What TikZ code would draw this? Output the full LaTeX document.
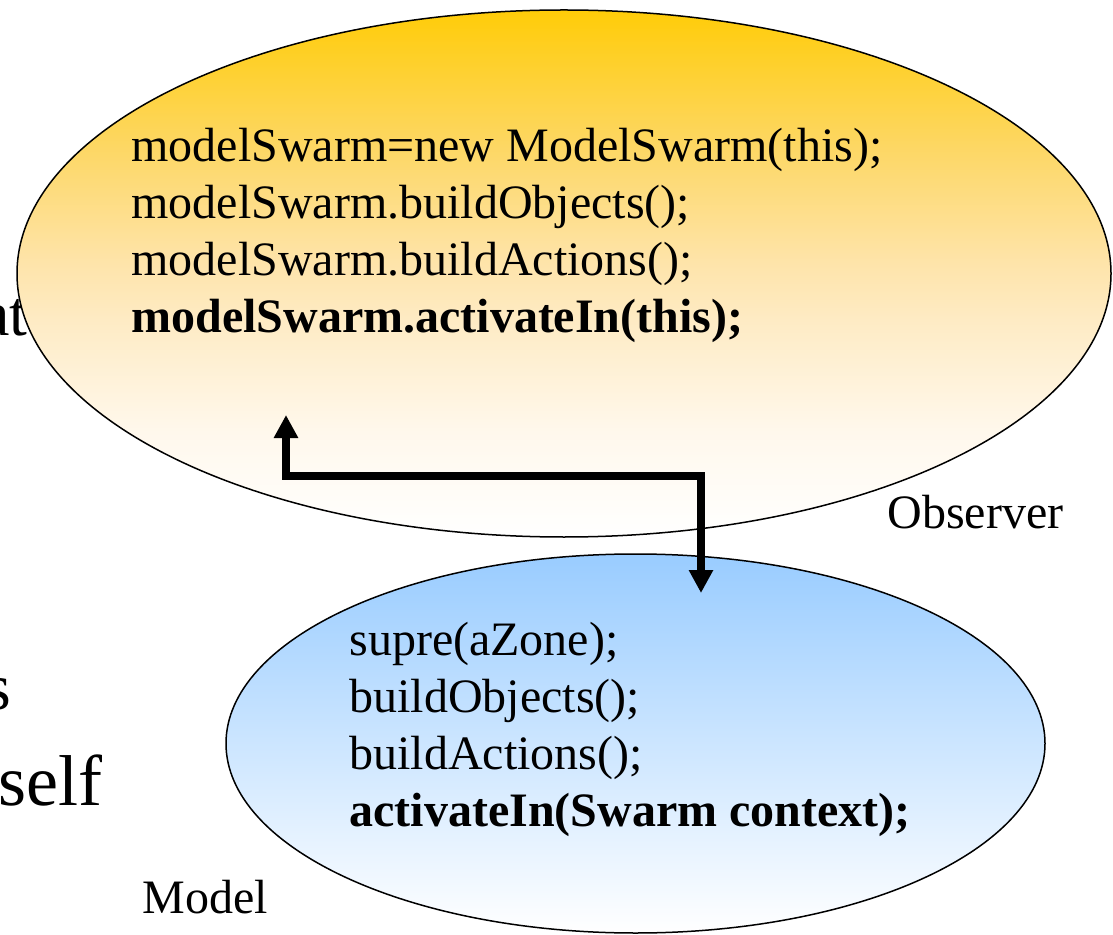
\documentclass[tikz,border=0pt]{standalone}
\usepackage{fontspec}
\setmainfont{Liberation Serif}
\usetikzlibrary{shapes.geometric,arrows.meta}
\definecolor{gold}{RGB}{255,204,8}
\definecolor{obA}{RGB}{253,215,100}
\definecolor{obB}{RGB}{254,228,170}
\definecolor{obC}{RGB}{254,235,196}
\definecolor{obD}{RGB}{255,248,236}
\definecolor{sky}{RGB}{153,204,255}
\definecolor{paleblue}{RGB}{210,229,252}
\pgfdeclareverticalshading{obsfill}{100bp}{color(0bp)=(white); color(25bp)=(white); color(35bp)=(obD); color(45.6bp)=(obC); color(51bp)=(obB); color(62bp)=(obA); color(75bp)=(gold); color(100bp)=(gold)}
\begin{document}
\begin{tikzpicture}[x=0.5pt,y=-0.5pt,
  code/.style={anchor=base west, inner sep=0pt, font=\fontsize{24}{28.5}\selectfont},
  codeb/.style={anchor=base west, inner sep=0pt, font=\fontsize{24}{28.5}\selectfont\bfseries},
  bgtext/.style={anchor=base west, inner sep=0pt},
  bubble/.style={ellipse, draw=black, line width=0.75pt, inner sep=0pt},
  link/.style={line width=4pt, {Triangle[length=11.5pt,width=11.5pt]}-{Triangle[length=11.5pt,width=11.5pt]}}
]
\useasboundingbox (0,0) rectangle (1113,935);
\clip (0,0) rectangle (1113,935);
% background slide text fragments
\node[bgtext, font=\fontsize{32}{38}\selectfont] (frag1) at (-19,336) {at};
\node[bgtext, font=\fontsize{33}{40}\selectfont] (frag2) at (-15,709) {s};
\node[bgtext, font=\fontsize{36}{43}\selectfont] (frag3) at (-2,805) {self};
% ellipses
\node[bubble, minimum width=547pt, minimum height=263.5pt,
      shade, shading=obsfill] (obs) at (564,273.5) {};
\node[bubble, minimum width=409.5pt, minimum height=189.5pt,
      top color=sky, middle color=paleblue, bottom color=white] (mod) at (635.5,743.5) {};
% observer code
\node[code]  (o1) at (131,162) {modelSwarm=new ModelSwarm(this);};
\node[code]  (o2) at (131,219) {modelSwarm.buildObjects();};
\node[code]  (o3) at (131,276) {modelSwarm.buildActions();};
\node[codeb] (o4) at (131,333) {modelSwarm.activateIn(this);};
% model code
\node[code]  (m1) at (349,655) {supre(aZone);};
\node[code]  (m2) at (349,712) {buildObjects();};
\node[code]  (m3) at (349,769) {buildActions();};
\node[codeb] (m4) at (349,826) {activateIn(Swarm context);};
% labels
\node[code] (obslabel) at (887,528) {Observer};
\node[code] (modlabel) at (142,913) {Model};
% connector
\coordinate (up) at (286,415);
\coordinate (hbar) at (493,476);
\coordinate (down) at (701,593);
\draw[link] (up) |- (hbar) -| (down);
\end{tikzpicture}
\end{document}
